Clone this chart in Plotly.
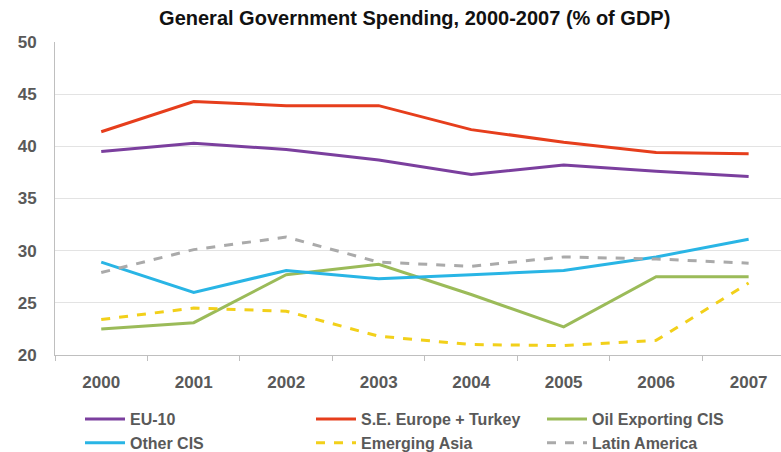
import plotly.graph_objects as go

years = ["2000", "2001", "2002", "2003", "2004", "2005", "2006", "2007"]

eu10 = [39.5, 40.3, 39.7, 38.7, 37.3, 38.2, 37.6, 37.1]
se_europe_turkey = [41.4, 44.3, 43.9, 43.9, 41.6, 40.4, 39.4, 39.3]
oil_exporting_cis = [22.5, 23.1, 27.7, 28.7, 25.8, 22.7, 27.5, 27.5]
other_cis = [28.9, 26.0, 28.1, 27.3, 27.7, 28.1, 29.4, 31.1]
emerging_asia = [23.4, 24.5, 24.2, 21.8, 21.0, 20.9, 21.4, 26.9]
latin_america = [27.9, 30.1, 31.3, 28.9, 28.5, 29.4, 29.2, 28.8]

series = [
    ("EU-10", eu10, "#7B3F9E", "solid"),
    ("S.E. Europe + Turkey", se_europe_turkey, "#E63E1C", "solid"),
    ("Oil Exporting CIS", oil_exporting_cis, "#9BBB59", "solid"),
    ("Other CIS", other_cis, "#29B5E5", "solid"),
    ("Emerging Asia", emerging_asia, "#F2D01A", "dash"),
    ("Latin America", latin_america, "#AAAAAA", "dash"),
]

FONT = "Liberation Sans, Arial, sans-serif"
GREY_TEXT = "#595959"

fig = go.Figure()
for name, vals, color, dash in series:
    fig.add_trace(go.Scatter(
        x=years, y=vals, name=name, mode="lines",
        line=dict(color=color, width=3, dash=dash),
    ))

fig.update_layout(
    width=781, height=452,
    margin=dict(l=55, r=0, t=42, b=97),
    paper_bgcolor="white", plot_bgcolor="white",
    title=dict(
        text="General Government Spending, 2000-2007 (% of GDP)",
        x=0.531, xanchor="center", xref="container",
        y=1 - 18 / 452, yanchor="middle", yref="container",
        font=dict(family=FONT, size=20, color="#111111", weight="bold"),
    ),
    font=dict(family=FONT, color=GREY_TEXT),
    showlegend=True,
    legend=dict(
        orientation="h",
        xref="container", x=80 / 781, xanchor="left",
        yref="container", y=1 - 402 / 452, yanchor="top",
        entrywidth=176, entrywidthmode="pixels",
        font=dict(family=FONT, size=16, color=GREY_TEXT, weight="bold"),
        tracegroupgap=0, itemwidth=40,
    ),
    xaxis=dict(
        type="category", range=[-0.5, 7.35],
        showgrid=False, showline=True, linecolor="#BFBFBF", linewidth=1,
        ticks="outside", tickson="boundaries", ticklen=5, tickcolor="#BFBFBF",
        tickfont=dict(family=FONT, size=17, color=GREY_TEXT, weight="bold"),
        ticklabelstandoff=12,
    ),
    yaxis=dict(
        range=[20, 50], dtick=5, tick0=20,
        showgrid=True, gridcolor="#E3E3E3", gridwidth=1,
        showline=True, linecolor="#BFBFBF", linewidth=1,
        zeroline=False, ticks="",
        tickfont=dict(family=FONT, size=17, color=GREY_TEXT, weight="bold"),
        ticklabelstandoff=14,
    ),
)

fig.write_html("out.html")
